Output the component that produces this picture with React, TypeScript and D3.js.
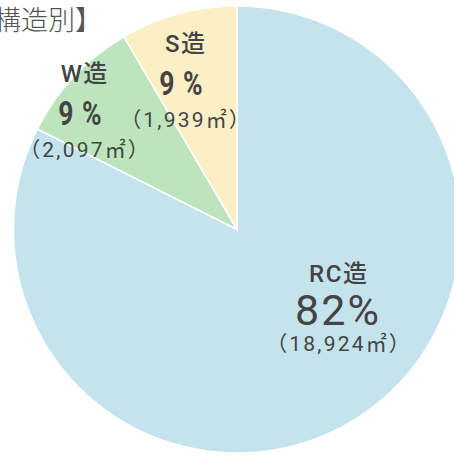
import React, { useEffect, useRef } from 'react';
import * as d3 from 'd3';

const categories = ['RC造', 'W造', 'S造'];
const areas = [18924, 2097, 1939];
const percentLabels = ['82%', '9%', '9%'];
const areaLabels = ['（18,924㎡）', '（2,097㎡）', '（1,939㎡）'];
const colors = ['#c5e3ec', '#bde4bd', '#fcefc6'];
const title = '【構造別】';

// where each label block sits (x, baseline of the name)
const labelPos = [
  { x: 338, y: 282, pct: 43, pctWeight: 400, pctSpace: 2, pctScale: 1, pctDx: -1, gap1: 43, gap2: 69 },
  { x: 84, y: 82, pct: 34, pctWeight: 700, pctSpace: 11, pctScale: 0.78, pctDx: -4, gap1: 43, gap2: 75 },
  { x: 185, y: 52, pct: 34, pctWeight: 700, pctSpace: 11, pctScale: 0.78, pctDx: -4, gap1: 43, gap2: 75 },
];

function App() {
  const ref = useRef<SVGSVGElement>(null);
  const width = 454, height = 457;

  useEffect(() => {
    const svg = d3.select(ref.current);
    svg.selectAll('*').remove();
    const font = 'Roboto, "Noto Sans CJK JP", sans-serif';

    const cx = 237, cy = 229.5, radius = 223.5;
    const g = svg.append('g').attr('transform', `translate(${cx}, ${cy})`);

    const pie = d3.pie<number>().sort(null).value(d => d);
    const arc = d3.arc<d3.PieArcDatum<number>>().innerRadius(0).outerRadius(radius);

    g.selectAll('path')
      .data(pie(areas))
      .join('path')
      .attr('d', arc)
      .attr('fill', (_, i) => colors[i])
      .attr('stroke', '#ffffff')
      .attr('stroke-width', 1.5);

    const labels = svg.append('g')
      .style('font-family', font)
      .attr('fill', '#444444')
      .attr('text-anchor', 'middle');

    const line = (x: number, y: number, size: number, weight: number, space: number, t: string, sx = 1) =>
      labels.append('text')
        .attr('transform', `translate(${x + (space * sx) / 2}, ${y}) scale(${sx}, 1)`)
        .style('font-size', `${size}px`)
        .style('font-weight', weight)
        .style('letter-spacing', `${space}px`)
        .text(t);

    categories.forEach((c, i) => {
      const p = labelPos[i];
      line(p.x, p.y, 24, 500, 1.5, c);
      line(p.x + p.pctDx, p.y + p.gap1, p.pct, p.pctWeight, p.pctSpace, percentLabels[i], p.pctScale);
      line(p.x, p.y + p.gap2, 21, 400, 2.2, areaLabels[i]);
    });

    svg.append('text')
      .attr('x', 102).attr('y', 30)
      .attr('text-anchor', 'end')
      .style('font-family', '"Noto Sans CJK JP", sans-serif')
      .style('font-size', '27px')
      .style('font-weight', 300)
      .attr('fill', '#555555')
      .text(title);
  }, []);

  return (
    <svg ref={ref} width={width} height={height}
      style={{ position: 'absolute', left: 0, top: 0 }}></svg>
  );
}

export default App;
